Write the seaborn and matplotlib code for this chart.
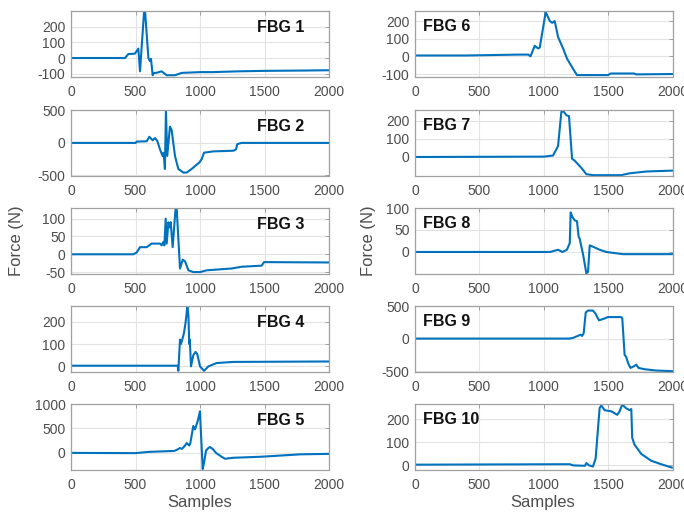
import matplotlib
matplotlib.use("Agg")
import matplotlib.pyplot as plt
import numpy as np
import pandas as pd
import seaborn as sns

# ---- force traces of the ten FBG sensors (sample index, force in N) ----
fbg1_x = [0, 419, 444, 496, 522, 535, 566, 574, 600, 612, 620, 633, 643, 660, 703, 741, 806, 858, 1000, 1100, 1300, 1500, 1800, 2000]
fbg1_y = [0, 0, 25, 28, 60, -85, 290, 300, 0, -20, -5, -110, -95, -95, -85, -110, -110, -95, -90, -90, -85, -82, -80, -78]

fbg2_x = [0, 501, 509, 587, 607, 633, 651, 669, 690, 710, 718, 728, 736, 746, 767, 780, 793, 806, 832, 871, 897, 935, 995, 1013, 1031, 1103, 1258, 1279, 1289, 1320, 2000]
fbg2_y = [0, 0, 20, 25, 94, 40, 75, 30, -100, -200, -150, -400, 500, -200, 250, 200, 0, -200, -400, -455, -455, -400, -300, -250, -150, -130, -120, -100, -20, 0, 0]

fbg3_x = [0, 483, 509, 535, 587, 625, 690, 703, 716, 724, 734, 742, 755, 767, 773, 788, 811, 819, 845, 866, 884, 910, 948, 1000, 1052, 1245, 1323, 1478, 1496, 2000]
fbg3_y = [0, 0, 5, 20, 20, 30, 30, 25, 35, 25, 100, 30, 90, 75, 90, 20, 130, 130, -40, -15, -20, -45, -50, -50, -45, -40, -35, -32, -22, -23]

fbg4_x = [0, 827, 832, 845, 851, 858, 876, 889, 902, 910, 917, 921, 930, 948, 966, 979, 1000, 1031, 1065, 1129, 1258, 2000]
fbg4_y = [3, 3, -20, 120, 100, 110, 150, 200, 270, 230, 100, 120, 0, 50, 65, 55, 0, -20, 0, 15, 20, 22]

fbg5_x = [0, 500, 600, 800, 819, 845, 860, 884, 897, 917, 925, 948, 961, 982, 1000, 1004, 1021, 1031, 1047, 1065, 1077, 1098, 1124, 1168, 1194, 1258, 1465, 1594, 1775, 2000]
fbg5_y = [0, -5, 20, 40, 60, 100, 80, 150, 200, 150, 200, 550, 480, 650, 850, 600, -330, -200, 50, 100, 120, 80, 0, -80, -120, -100, -80, -60, -30, -20]

fbg6_x = [0, 400, 800, 880, 897, 930, 956, 969, 1015, 1022, 1047, 1065, 1085, 1111, 1150, 1181, 1227, 1258, 1500, 1520, 1700, 1720, 2000]
fbg6_y = [5, 5, 10, 10, 0, 60, 45, 50, 250, 240, 200, 190, 200, 110, 45, -13, -70, -106, -106, -97, -97, -102, -100]

fbg7_x = [0, 1000, 1072, 1111, 1137, 1155, 1176, 1196, 1220, 1240, 1266, 1292, 1331, 1382, 1602, 1667, 1796, 2000]
fbg7_y = [0, 2, 8, 60, 250, 250, 230, 225, -10, -20, -40, -60, -95, -100, -100, -90, -80, -75]

fbg8_x = [0, 1049, 1111, 1145, 1180, 1202, 1209, 1222, 1240, 1258, 1271, 1279, 1305, 1331, 1344, 1357, 1382, 1434, 1486, 1615, 2000]
fbg8_y = [0, 0, 5, 0, 5, 20, 90, 80, 72, 70, 35, 30, -5, -49, -45, 15, 12, 5, 0, -5, -5]

fbg9_x = [0, 1200, 1227, 1287, 1297, 1310, 1326, 1344, 1382, 1403, 1429, 1460, 1499, 1602, 1610, 1628, 1640, 1656, 1674, 1705, 1718, 1736, 1783, 1873, 2000]
fbg9_y = [0, 0, 10, 60, 40, 80, 400, 430, 430, 380, 280, 300, 330, 330, 310, -250, -280, -380, -450, -420, -400, -450, -470, -490, -500]

fbg10_x = [0, 1202, 1227, 1320, 1331, 1351, 1382, 1403, 1434, 1447, 1473, 1525, 1571, 1589, 1610, 1636, 1667, 1680, 1687, 1705, 1757, 1835, 1912, 1997]
fbg10_y = [3, 5, 0, -2, 10, 0, -5, 30, 250, 260, 240, 235, 220, 235, 265, 250, 240, 245, 120, 90, 50, 20, 5, -10]

sensor_names = ["FBG 1", "FBG 2", "FBG 3", "FBG 4", "FBG 5",
                "FBG 6", "FBG 7", "FBG 8", "FBG 9", "FBG 10"]
sensor_x = [fbg1_x, fbg2_x, fbg3_x, fbg4_x, fbg5_x, fbg6_x, fbg7_x, fbg8_x, fbg9_x, fbg10_x]
sensor_y = [fbg1_y, fbg2_y, fbg3_y, fbg4_y, fbg5_y, fbg6_y, fbg7_y, fbg8_y, fbg9_y, fbg10_y]

y_limits = [(-118, 300), (-500, 505), (-54, 130), (-23, 271), (-340, 1000),
            (-114, 257), (-102, 259), (-49, 100), (-505, 500), (-18, 267)]
y_ticks = [[-100, 0, 100, 200], [-500, 0, 500], [-50, 0, 50, 100], [0, 100, 200], [0, 500, 1000],
           [-100, 0, 100, 200], [0, 100, 200], [0, 50, 100], [-500, 0, 500], [0, 100, 200]]
x_ticks = [0, 500, 1000, 1500, 2000]

frames = []
for name, xs, ys in zip(sensor_names, sensor_x, sensor_y):
    frames.append(pd.DataFrame({"sensor": name, "Samples": xs, "Force (N)": ys}))
data = pd.concat(frames, ignore_index=True)

sns.set_theme(style="white")
plt.rcParams["font.family"] = ["Liberation Sans", "DejaVu Sans"]
plt.rcParams["axes.unicode_minus"] = False

W, H = 684, 512
fig = plt.figure(figsize=(W / 100, H / 100), dpi=100)

col_left = [71, 415]
col_width = [258, 257.5]
row_top = [11, 110, 208, 306, 404]
row_h = 65.5

line_color = "#0072BD"
tick_color = "#4d4d4d"
frame_color = "#a0a0a0"

for i, name in enumerate(sensor_names):
    col, row = divmod(i, 5)
    left = col_left[col] / W
    bottom = 1 - (row_top[row] + row_h) / H
    ax = fig.add_axes([left, bottom, col_width[col] / W, row_h / H])
    sub = data[data["sensor"] == name]
    sns.lineplot(data=sub, x="Samples", y="Force (N)", ax=ax, color=line_color,
                 linewidth=1.5, sort=False, estimator=None)
    ax.set_xlim(0, 2000)
    ax.set_ylim(*y_limits[i])
    ax.set_xticks(x_ticks)
    ax.set_yticks(y_ticks[i])
    ax.grid(True, color="#e3e3e3", linewidth=0.8)
    ax.set_axisbelow(True)
    for s in ax.spines.values():
        s.set_color(frame_color)
        s.set_linewidth(0.9)
    ax.tick_params(direction="in", length=3, width=0.7, color=frame_color,
                   labelsize=10, labelcolor=tick_color, pad=4,
                   top=True, right=True)
    ax.tick_params(axis="x", pad=6)
    ax.set_xlabel("")
    ax.set_ylabel("")
    if col == 0:
        ax.text(0.72, 0.75, name, transform=ax.transAxes, fontsize=11.5,
                fontweight="bold", ha="left", va="center", color="#111111")
    else:
        ax.text(0.03, 0.76, name, transform=ax.transAxes, fontsize=11.5,
                fontweight="bold", ha="left", va="center", color="#111111")

# shared axis titles
fig.text(17 / W, 1 - 241 / H, "Force (N)", rotation=90, ha="center", va="center",
         fontsize=12, color=tick_color)
fig.text(369 / W, 1 - 241 / H, "Force (N)", rotation=90, ha="center", va="center",
         fontsize=12, color=tick_color)
fig.text(200 / W, 1 - 502 / H, "Samples", ha="center", va="center",
         fontsize=12, color=tick_color)
fig.text(543 / W, 1 - 502 / H, "Samples", ha="center", va="center",
         fontsize=12, color=tick_color)

fig.savefig("out.png", dpi=100)
